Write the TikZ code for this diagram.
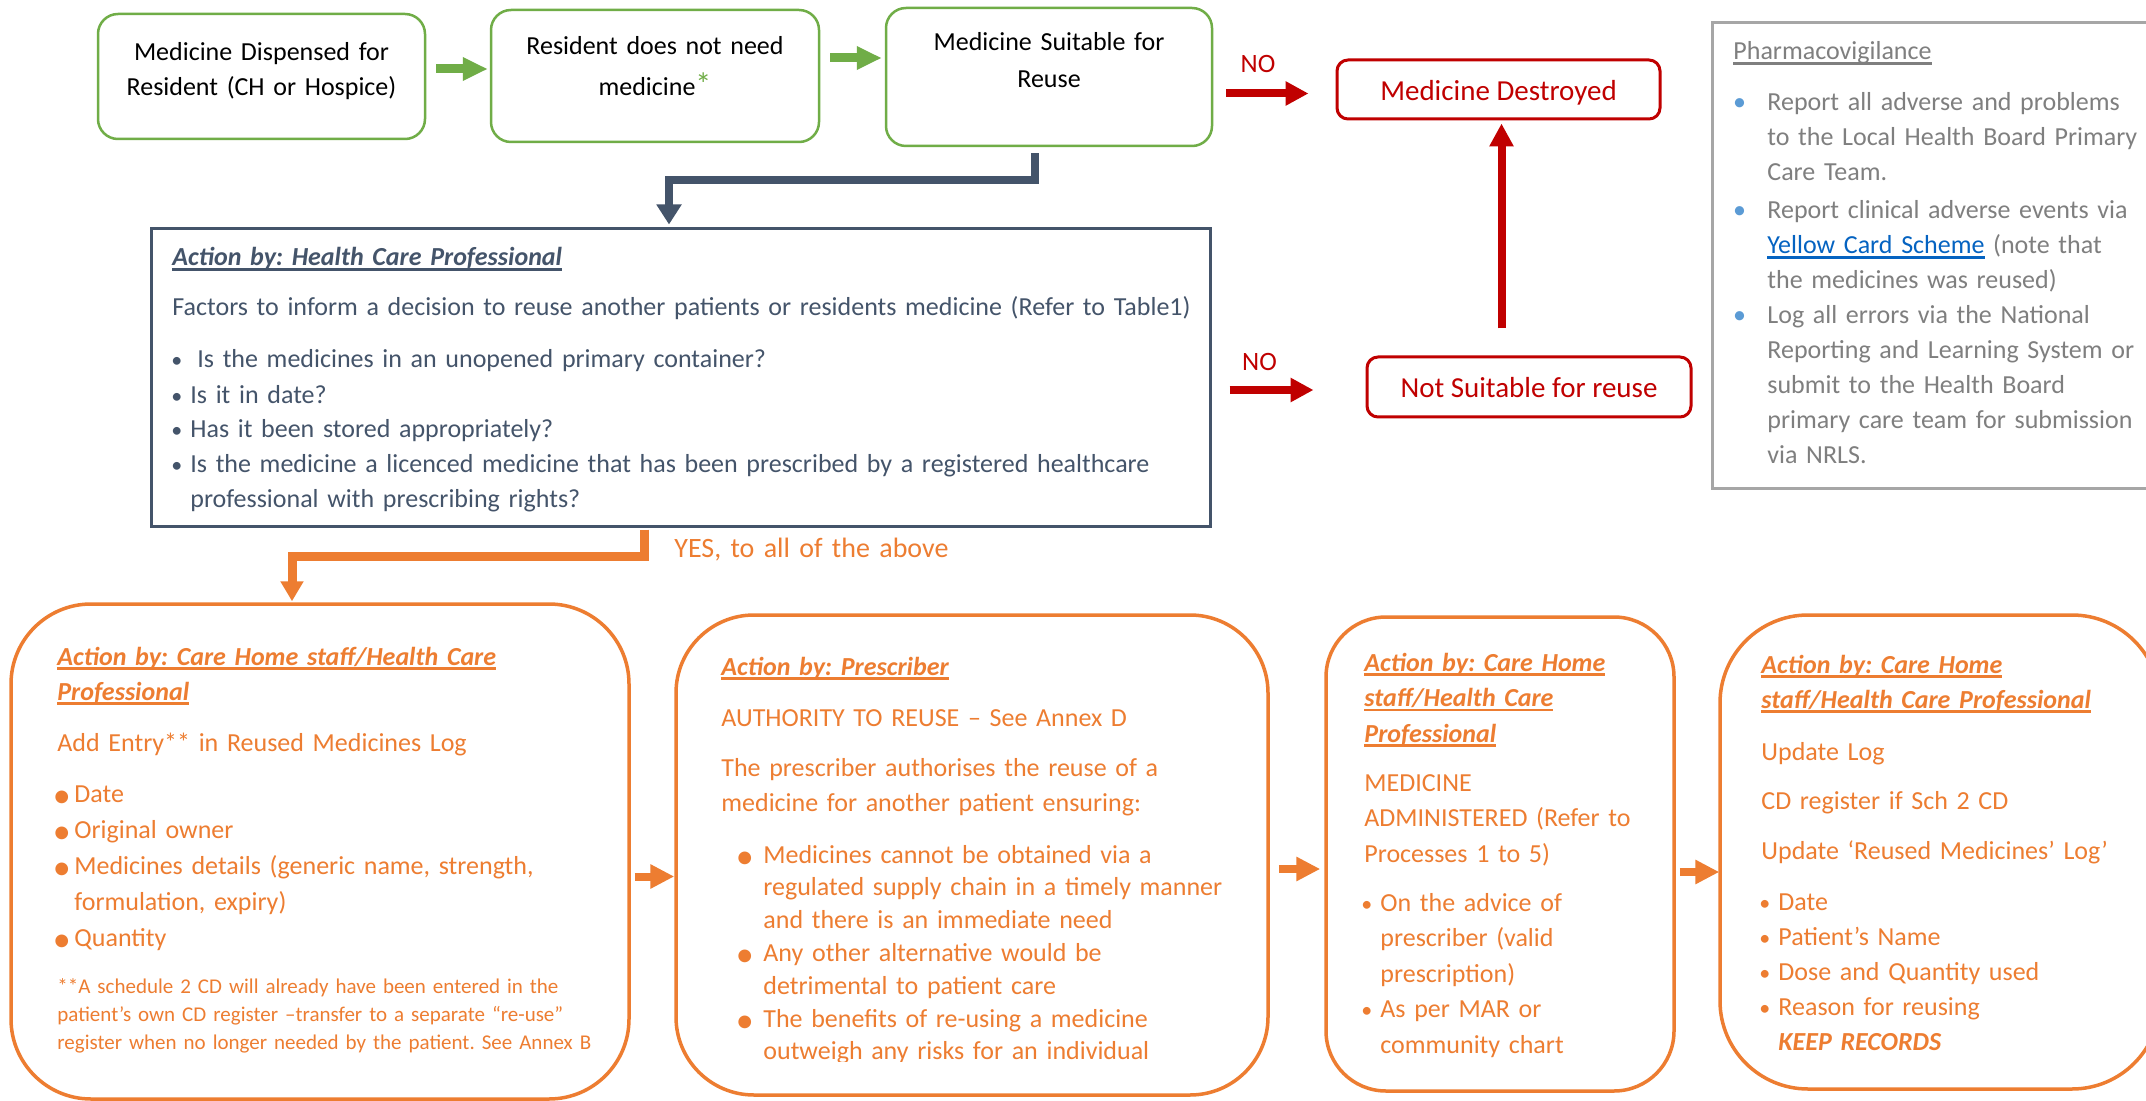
\documentclass[tikz,border=0pt]{standalone}
\usepackage{fontspec}
\setmainfont{Carlito}
\usetikzlibrary{arrows.meta,calc,fit}
\definecolor{cgreen}{HTML}{70AD47}
\definecolor{cred}{HTML}{C00000}
\definecolor{cnavy}{HTML}{44546A}
\definecolor{corange}{HTML}{ED7D31}
\definecolor{cgrayline}{HTML}{A6A6A6}
\definecolor{cgraytext}{HTML}{7F7F7F}
\definecolor{cblue}{HTML}{5B9BD5}
\definecolor{clink}{HTML}{0563C1}
\frenchspacing
\newsavebox\myulbox
\newcommand\myul[1]{\sbox\myulbox{#1}\leavevmode\rlap{\rule[-2.3pt]{\wd\myulbox}{1.1pt}}\usebox\myulbox}
\newcommand\Fs[2]{\fontsize{#1}{#2}\selectfont}
\newcommand\bulA{\leavevmode\llap{\raisebox{-2.5pt}{\Fs{18}{0}•}\hspace{1.8pt}}}
\newcommand\bulD{\leavevmode\llap{\raisebox{-2.5pt}{\Fs{18}{0}•}\hspace{4.8pt}}}
\newcommand\bulB{\leavevmode\llap{{\Fs{11}{0}•}\hspace{4pt}}}
\newcommand\bulC{\leavevmode\llap{{\color{cblue}•}\hspace{10.7pt}}}
\newcommand\ttl[1]{\textbf{\textit{\myul{#1}}}}
\begin{document}
\begin{tikzpicture}[x=0.5pt,y=-0.5pt,
  every node/.style={inner sep=0pt},
  txt/.style={anchor=base west, align=left, text width=560pt, font=\Fs{13}{17.5}},
  ctxt/.style={anchor=base, align=center, text width=300pt, font=\Fs{13}{17.5}},
  gbox/.style={draw=cgreen, line width=1.25pt, rounded corners=10pt},
  rbox/.style={draw=cred, line width=1.5pt, rounded corners=5.5pt},
  rtxt/.style={anchor=base, text=cred, font=\Fs{14.5}{17.5}},
  nbox/.style={draw=cnavy, line width=1.5pt},
  pbox/.style={draw=cgrayline, line width=1.5pt},
  obox/.style={draw=corange, line width=1.75pt},
  garrow/.style={draw=cgreen, line width=4.5pt, -{Triangle[length=12.5pt,width=11pt]}},
  rarrow/.style={draw=cred, line width=4pt, -{Triangle[length=11.5pt,width=11.5pt]}},
  narrow/.style={draw=cnavy, line width=4pt, -{Triangle[length=10pt,width=12pt]}},
  oarrow/.style={draw=corange, line width=4pt, -{Triangle[length=12pt,width=11.5pt]}},
  oconn/.style={draw=corange, line width=4.5pt, -{Triangle[length=10pt,width=11pt]}},
]
\fill[white] (0,0) rectangle (2146,1101);
\useasboundingbox (0,0) rectangle (2146,1101);

% top green boxes
\node[gbox, fit={(98,14)(425,139)}] (b1) {};
\node[gbox, fit={(491,10)(819,142)}] (b2) {};
\node[gbox, fit={(886,8)(1212,146)}] (b3) {};
\node[ctxt] (t1) at (261.5,61) {Medicine Dispensed for\\Resident (CH or Hospice)};
\node[ctxt] (t2) at (655,55) {Resident does not need\\[3pt]medicine{\color{cgreen}\Fs{16}{0}*}};
\node[ctxt] (t3) at (1049,51) {Medicine Suitable for\\[1pt]Reuse};

% red boxes
\node[rbox, fit={(1337,60)(1660,119)}] (md) {};
\node[rtxt] (mdt) at (1498.5,101) {Medicine Destroyed};
\node[rbox, fit={(1367,357)(1691,417)}] (ns) {};
\node[rtxt] (nst) at (1529,398) {Not Suitable for reuse};
\node[text=cred, font=\Fs{13.25}{16}] (no1) at (1258,63.5) {NO};
\node[text=cred, font=\Fs{13.25}{16}] (no2) at (1259.5,361.5) {NO};

% pharmacovigilance
\node[pbox, fit={(1712,23)(2152,488)}] (pv) {};
\node[txt, text=cgraytext] (pv0) at (1733,60) {\myul{Pharmacovigilance}};
\node[txt, text=cgraytext] (pv1) at (1767,111) {\bulC Report all adverse and problems\\to the Local Health Board Primary\\Care Team.};
\node[txt, text=cgraytext] (pv2) at (1767,219) {\bulC Report clinical adverse events via\\{\color{clink}\myul{Yellow Card Scheme}} (note that\\the medicines was reused)};
\node[txt, text=cgraytext] (pv3) at (1767,324) {\bulC Log all errors via the National\\Reporting and Learning System or\\submit to the Health Board\\primary care team for submission\\via NRLS.};

% health care professional box
\node[nbox, fit={(151,229)(1210,526)}] (hcp) {};
\node[txt, text=cnavy] (h0) at (172,266) {\ttl{Action by: Health Care Professional}};
\node[txt, text=cnavy] (h1) at (172,316) {Factors to inform a decision to reuse another patients or residents medicine (Refer to Table1)};
\node[txt, text=cnavy] (h2) at (190,368) {\bulB\hspace{3.5pt}Is the medicines in an unopened primary container?\\\bulB Is it in date?\\\bulB Has it been stored appropriately?\\\bulB Is the medicine a licenced medicine that has been prescribed by a registered healthcare\\professional with prescribing rights?};
\node[txt, text=corange, font=\Fs{14}{17.5}] (yes) at (674,557) {YES, to all of the above};

% orange boxes
\node[obox, rounded corners=40pt, fit={(11,604)(629,1099)}] (b4) {};
\node[obox, rounded corners=39pt, fit={(676,615)(1268,1095)}] (b5) {};
\node[obox, rounded corners=30pt, fit={(1326,617)(1674,1091)}] (b6) {};
\node[obox, rounded corners=44pt, fit={(1720,615)(2160,1089)}] (b7) {};

\node[txt, text=corange] (o4a) at (57,665) {\ttl{Action by: Care Home staff/Health Care}\\\ttl{Professional}};
\node[txt, text=corange] (o4b) at (57,751) {Add Entry** in Reused Medicines Log};
\node[txt, text=corange, font=\Fs{13}{18.1}] (o4c) at (74,802) {\bulA Date\\\bulA Original owner\\\bulA Medicines details (generic name, strength,\\formulation, expiry)\\\bulA Quantity};
\node[txt, text=corange, font=\Fs{10.5}{14}] (o4d) at (57,993) {**A schedule 2 CD will already have been entered in the\\patient’s own CD register –transfer to a separate “re-use”\\register when no longer needed by the patient. See Annex B};

\node[txt, text=corange] (o5a) at (721,675) {\ttl{Action by: Prescriber}};
\node[txt, text=corange] (o5b) at (721,726) {AUTHORITY TO REUSE – See Annex D};
\node[txt, text=corange] (o5c) at (721,776) {The prescriber authorises the reuse of a\\medicine for another patient ensuring:};
\begin{scope}
\clip (600,615) rectangle (1300,1061);
\node[txt, text=corange, font=\Fs{13}{16.4}] (o5d) at (763,863) {\bulD Medicines cannot be obtained via a\\regulated supply chain in a timely manner\\and there is an immediate need\\\bulD Any other alternative would be\\detrimental to patient care\\\bulD The benefits of re-using a medicine\\outweigh any risks for an individual};
\end{scope}

\node[txt, text=corange, font=\Fs{13}{17.75}] (o6a) at (1364,671) {\ttl{Action by: Care Home}\\\ttl{staff/Health Care}\\\ttl{Professional}};
\node[txt, text=corange, font=\Fs{13}{17.75}] (o6b) at (1364,791) {MEDICINE\\ADMINISTERED (Refer to\\Processes 1 to 5)};
\node[txt, text=corange, font=\Fs{13}{17.75}] (o6c) at (1380,911) {\bulB On the advice of\\prescriber (valid\\prescription)\\\bulB As per MAR or\\community chart};

\node[txt, text=corange] (o7a) at (1761,673) {\ttl{Action by: Care Home}\\\ttl{staff/Health Care Professional}};
\node[txt, text=corange] (o7b) at (1761,760) {Update Log};
\node[txt, text=corange] (o7c) at (1761,809) {CD register if Sch 2 CD};
\node[txt, text=corange] (o7d) at (1761,859) {Update ‘Reused Medicines’ Log’};
\node[txt, text=corange] (o7e) at (1778,910) {\bulB Date\\\bulB Patient’s Name\\\bulB Dose and Quantity used\\\bulB Reason for reusing\\\textbf{\textit{KEEP RECORDS}}};

% connectors
\draw[garrow] ($(b1.east)+(10,-7.5)$) -- ($(b2.west |- b1.east)+(-2,-7.5)$);
\draw[garrow] ($(b2.east)+(10,-18)$) -- ($(b3.west |- b2.east)+(-3,-18)$);
\draw[rarrow] ($(b3.east |- md.west)+(13,4)$) -- ($(md.west)+(-27,4)$);
\draw[narrow] ($(b3.south)+(-14,6)$) |- ($(hcp.north)+(-11.5,-47)$) -- ($(hcp.north)+(-11.5,-3)$);
\draw[rarrow] ($(hcp.east |- ns.west)+(18,3)$) -- ($(ns.west)+(-52,3)$);
\draw[rarrow] ($(ns.north -| md.south)+(3,-27)$) -- ($(md.south)+(3,3)$);
\draw[oconn] ($(hcp.south)+(-36.5,2)$) |- ($(b4.north)+(-28,-46)$) -- ($(b4.north)+(-28,-1)$);
\draw[oarrow] ($(b4.east)+(4,25)$) -- ($(b5.west |- b4.east)+(0,25)$);
\draw[oarrow] ($(b5.east)+(9,14)$) -- ($(b6.west |- b5.east)+(-4,14)$);
\draw[oarrow] ($(b6.east)+(4,18)$) -- ($(b7.west |- b6.east)+(1,18)$);
\end{tikzpicture}
\end{document}
